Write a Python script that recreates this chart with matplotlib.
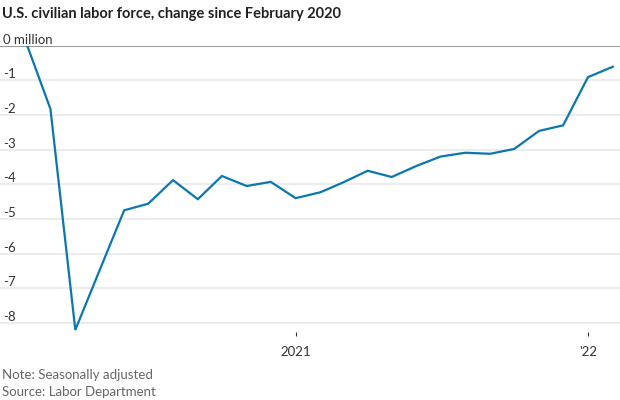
import pandas as pd
import matplotlib.pyplot as plt
import matplotlib.transforms as mtransforms

plt.rcParams['font.family'] = ['Lato', 'DejaVu Sans']

# Monthly change in civilian labor force vs. Feb 2020, millions
months = pd.date_range('2020-02-01', '2022-02-01', freq='MS')
change = [0.0, -1.83, -8.2, -6.5, -4.75, -4.56, -3.88, -4.43, -3.76, -4.05,
          -3.93, -4.40, -4.23, -3.95, -3.61, -3.79, -3.47, -3.20, -3.09,
          -3.12, -2.98, -2.46, -2.30, -0.91, -0.61]
y_ticks = [0, -1, -2, -3, -4, -5, -6, -7, -8]
y_labels = ['0 million', '-1', '-2', '-3', '-4', '-5', '-6', '-7', '-8']
x_ticks = [pd.Timestamp('2021-01-01'), pd.Timestamp('2022-01-01')]
x_labels = ['2021', "'22"]

fig = plt.figure(figsize=(6.2, 4), dpi=100)
ax = fig.add_axes([0, 0.17, 1, 0.716])

# gridlines + zero line
for v in y_ticks:
    if v == 0:
        ax.axhline(v, color='#999999', lw=1.5, zorder=2)
    else:
        ax.axhline(v, color='#ececec', lw=1.5, zorder=1)

ax.plot(months, change, color='#0a77b0', lw=1.6, zorder=3,
        solid_joinstyle='miter')

ax.set_xlim(pd.Timestamp('2019-12-29'), pd.Timestamp('2022-02-10'))
ax.set_ylim(-8.26, 0)

# y labels sit above the gridlines on the left
trans = mtransforms.blended_transform_factory(ax.transAxes, ax.transData)
for v, lab in zip(y_ticks, y_labels):
    ax.text(0.005, v, lab, transform=trans, ha='left', va='bottom',
            fontsize=9.5, color='#333333',
            bbox=dict(facecolor='none', edgecolor='none', pad=1.2))

ax.set_yticks([])
ax.set_xticks(x_ticks)
ax.set_xticklabels(x_labels, fontsize=9.5, color='#333333')
ax.tick_params(axis='x', direction='out', length=3, width=0.8,
               color='#333333', pad=7)
for s in ax.spines.values():
    s.set_visible(False)

fig.text(0.003, 0.965, 'U.S. civilian labor force, change since February 2020',
         fontsize=10.5, fontweight='bold', color='#222222', va='center')
fig.text(0.003, 0.062, 'Note: Seasonally adjusted', fontsize=9.5,
         color='#666666', va='center')
fig.text(0.003, 0.02, 'Source: Labor Department', fontsize=9.5,
         color='#666666', va='center')

fig.savefig('out.png', dpi=100)
